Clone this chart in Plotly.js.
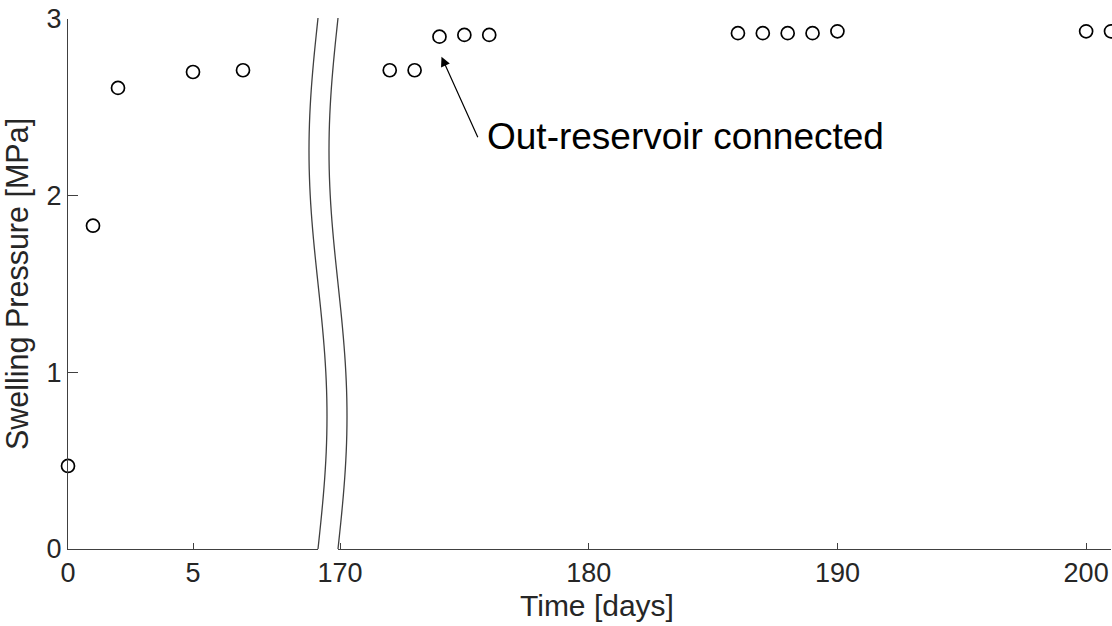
<!DOCTYPE html>
<html>
<head>
<meta charset="utf-8">
<script src="https://cdn.plot.ly/plotly-3.0.1.min.js"></script>
<style>
  html, body { margin: 0; padding: 0; background: #ffffff; }
  #chart { width: 1112px; height: 626px; }
</style>
</head>
<body>
<div id="chart"></div>
<script>
// ---- data ----
const days = [0, 1, 2, 5, 7, 172, 173, 174, 175, 176, 186, 187, 188, 189, 190, 200, 201];
const pressure = [0.47, 1.83, 2.61, 2.70, 2.71, 2.71, 2.71, 2.90, 2.91, 2.91, 2.92, 2.92, 2.92, 2.92, 2.93, 2.93, 2.93];
const leftTicks = [0, 5];
const rightTicks = [170, 180, 190, 200];
const yTicks = [0, 1, 2, 3];
const breakAfter = 10;      // end of first segment (days)
const resumeAt = 170;       // start of second segment (days)
const annotatedDay = 174;   // out-reservoir connected
const annotationText = 'Out-reservoir connected';

// ---- layout geometry ----
const W = 1112, H = 626;
const mL = 68, mR = 1, mT = 19, mB = 77;
const plotW = W - mL - mR, plotH = H - mT - mB;
const leftEndPx = 318, rightStartPx = 338;
const d1 = (leftEndPx - mL) / plotW;
const d2 = (rightStartPx - mL) / plotW;
const rightEnd = 201;
const pxPerDay = (W - mR - 340) / (rightEnd - resumeAt);
const rightStart = resumeAt - (340 - rightStartPx) / pxPerDay;

const FONT = 'Liberation Sans, Arial, Helvetica, sans-serif';
const TXT = '#262626';
const AX = '#404040';

const leftIdx = days.map((d, i) => i).filter(i => days[i] <= breakAfter);
const rightIdx = days.map((d, i) => i).filter(i => days[i] >= resumeAt);

const marker = { symbol: 'circle-open', size: 13, color: '#000000', line: { width: 1.7, color: '#000000' } };

const traces = [
  { x: leftIdx.map(i => days[i]), y: leftIdx.map(i => pressure[i]), xaxis: 'x', yaxis: 'y',
    type: 'scatter', mode: 'markers', marker: marker, cliponaxis: false, showlegend: false, hoverinfo: 'x+y' },
  { x: rightIdx.map(i => days[i]), y: rightIdx.map(i => pressure[i]), xaxis: 'x2', yaxis: 'y',
    type: 'scatter', mode: 'markers', marker: marker, cliponaxis: false, showlegend: false, hoverinfo: 'x+y' }
];

// break marks: two wavy lines (sine shaped) in paper coordinates
function wavyPath(basePx) {
  const top = 18, bot = 549, amp = 9, n = 60;
  let p = '';
  for (let k = 0; k <= n; k++) {
    const ypx = top + (bot - top) * k / n;
    const xpx = basePx - amp * Math.sin(2 * Math.PI * (ypx - top) / (bot - top));
    const xp = (xpx - mL) / plotW;
    const yp = (H - mB - ypx) / plotH;
    p += (k === 0 ? 'M ' : ' L ') + xp.toFixed(5) + ' ' + yp.toFixed(5);
  }
  return p;
}

const axisCommon = {
  showline: true, linecolor: AX, linewidth: 1,
  ticks: 'inside', tickcolor: AX, tickwidth: 1,
  showgrid: false, zeroline: false,
  tickfont: { family: FONT, size: 27, color: TXT },
  fixedrange: true
};

const ai = days.indexOf(annotatedDay);

const layout = {
  width: W, height: H,
  margin: { l: mL, r: mR, t: mT, b: mB, pad: 0 },
  paper_bgcolor: '#ffffff', plot_bgcolor: '#ffffff',
  showlegend: false,
  xaxis: Object.assign({}, axisCommon, {
    domain: [0, d1], range: [0, breakAfter], tickvals: leftTicks, ticklen: 6, anchor: 'y'
  }),
  xaxis2: Object.assign({}, axisCommon, {
    domain: [d2, 1], range: [rightStart, rightEnd], tickvals: rightTicks, ticklen: 6, anchor: 'y'
  }),
  yaxis: Object.assign({}, axisCommon, {
    range: [0, 3], tickvals: yTicks, ticklen: 10, anchor: 'x',
    title: { text: 'Swelling Pressure [MPa]', font: { family: FONT, size: 30.5, color: TXT }, standoff: 8 },
    automargin: false
  }),
  shapes: [
    { type: 'path', xref: 'paper', yref: 'paper', path: wavyPath(leftEndPx), line: { color: AX, width: 1.3 } },
    { type: 'path', xref: 'paper', yref: 'paper', path: wavyPath(rightStartPx), line: { color: AX, width: 1.3 } }
  ],
  annotations: [
    { xref: 'paper', yref: 'paper', x: (596.5 - mL) / plotW, y: (H - mB - 605) / plotH,
      xanchor: 'center', yanchor: 'middle', showarrow: false,
      text: 'Time [days]', font: { family: FONT, size: 30, color: TXT } },
    { xref: 'x2', yref: 'y', x: days[ai], y: pressure[ai], xshift: 2, yshift: -20,
      text: '', showarrow: true, arrowhead: 2, arrowsize: 1.6, arrowwidth: 1.2, arrowcolor: '#000000',
      ax: 37, ay: 82, axref: 'pixel', ayref: 'pixel', standoff: 0 },
    { xref: 'x2', yref: 'y', x: days[ai], y: pressure[ai], xshift: 46, yshift: -100,
      xanchor: 'left', yanchor: 'middle', showarrow: false,
      text: annotationText, font: { family: FONT, size: 37, color: '#000000' } }
  ]
};

Plotly.newPlot('chart', traces, layout, { staticPlot: true, displayModeBar: false });
</script>
</body>
</html>
